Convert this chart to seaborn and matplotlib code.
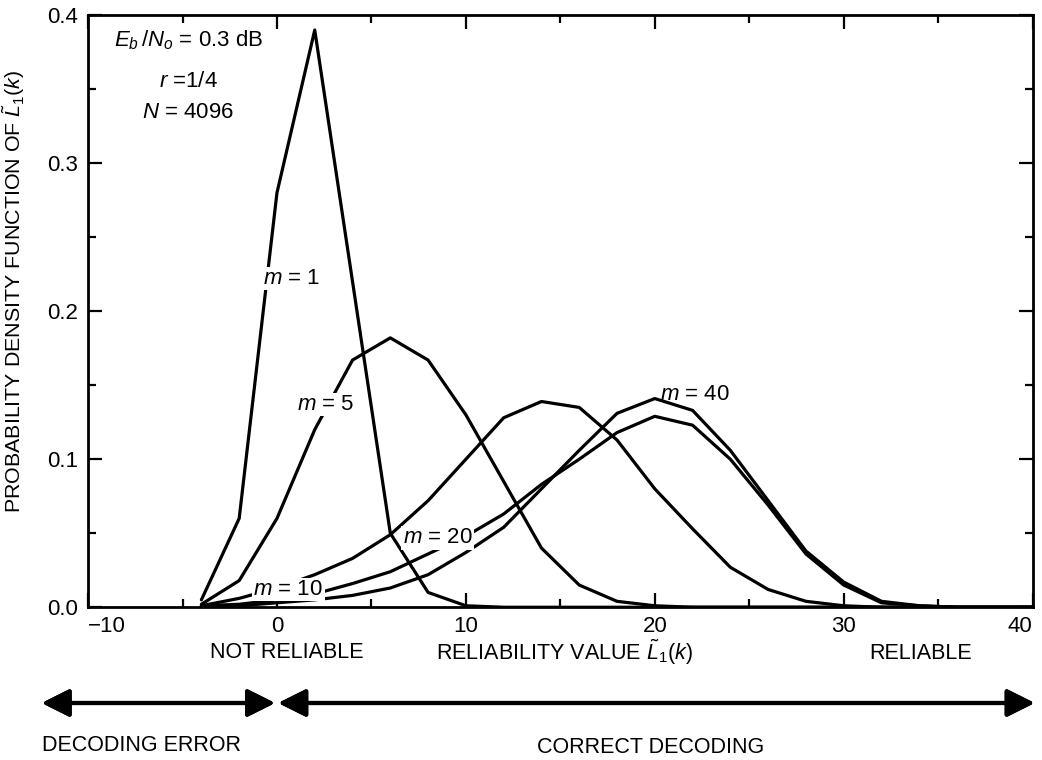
import numpy as np
import pandas as pd
import seaborn as sns
import matplotlib.pyplot as plt
from matplotlib.ticker import MultipleLocator, FormatStrFormatter

# reliability value grid (every 2 units)
x_vals = list(range(-4, 42, 2))
x_ticks = [-10, 0, 10, 20, 30, 40]

pdf_m1 = [0.005, 0.06, 0.28, 0.39, 0.22, 0.05, 0.01, 0.001, 0, 0, 0, 0,
          0, 0, 0, 0, 0, 0, 0, 0, 0, 0, 0]
pdf_m5 = [0.002, 0.018, 0.06, 0.12, 0.167, 0.182, 0.167, 0.13, 0.085, 0.04,
          0.015, 0.004, 0.001, 0, 0, 0, 0, 0, 0, 0, 0, 0, 0]
pdf_m10 = [0.001, 0.006, 0.013, 0.022, 0.033, 0.049, 0.072, 0.1, 0.128,
           0.139, 0.135, 0.113, 0.08, 0.053, 0.027, 0.012, 0.004, 0.001,
           0, 0, 0, 0, 0]
pdf_m20 = [0.001, 0.002, 0.005, 0.009, 0.016, 0.024, 0.036, 0.048, 0.063,
           0.083, 0.1, 0.118, 0.129, 0.123, 0.1, 0.069, 0.036, 0.015,
           0.003, 0.001, 0, 0, 0]
pdf_m40 = [0.0005, 0.001, 0.003, 0.005, 0.008, 0.013, 0.022, 0.037, 0.054,
           0.08, 0.106, 0.131, 0.141, 0.133, 0.106, 0.072, 0.038, 0.017,
           0.004, 0.001, 0, 0, 0]

series = {"1": pdf_m1, "5": pdf_m5, "10": pdf_m10, "20": pdf_m20, "40": pdf_m40}
df = pd.concat(
    [pd.DataFrame({"x": x_vals, "pdf": v, "m": k}) for k, v in series.items()],
    ignore_index=True,
)

sns.set_style("ticks")
plt.rcParams["font.family"] = ["Liberation Sans", "DejaVu Sans"]
plt.rcParams["mathtext.fontset"] = "custom"
plt.rcParams["mathtext.rm"] = "Liberation Sans"
plt.rcParams["mathtext.it"] = "Liberation Sans:italic"
for key in ["text.color", "axes.labelcolor", "xtick.color", "ytick.color",
            "axes.edgecolor"]:
    plt.rcParams[key] = "black"

fig = plt.figure(figsize=(10.42, 7.6), dpi=100)
ax = fig.add_axes([0.0845, 0.201, 0.9065, 0.779])

sns.lineplot(data=df, x="x", y="pdf", hue="m",
             palette=["black"] * 5, linewidth=2.3, legend=False, ax=ax)

ax.set_xlim(-10, 40)
ax.set_ylim(0, 0.4)
ax.set_xticks(x_ticks)
ax.xaxis.set_minor_locator(MultipleLocator(5))
ax.yaxis.set_major_locator(MultipleLocator(0.1))
ax.yaxis.set_minor_locator(MultipleLocator(0.05))
ax.yaxis.set_major_formatter(FormatStrFormatter("%.1f"))
ax.tick_params(which="both", direction="in", top=True, right=True,
               labelsize=16, width=1.6)
ax.tick_params(axis="x", pad=6)
ax.tick_params(axis="y", pad=7)
ax.tick_params(which="major", length=10)
ax.tick_params(which="minor", length=6)
for s in ax.spines.values():
    s.set_linewidth(2.0)
# end labels sit inside the figure, as in the original
xt = ax.xaxis.get_major_ticks()
xt[0].label1.set_horizontalalignment("left")
xt[-1].label1.set_horizontalalignment("right")
ax.set_xlabel("")
ax.set_ylabel(r"PROBABILITY DENSITY FUNCTION OF $\tilde{L}_1(k)$", fontsize=15.4)
ax.yaxis.set_label_coords(-0.065, 0.534)

# parameter box
ax.text(-4.7, 0.383, r"$E_b\,/N_o$ = 0.3 dB", fontsize=16, ha="center", va="center")
ax.text(-4.7, 0.355, r"$r$ =1/4", fontsize=16, ha="center", va="center")
ax.text(-4.7, 0.334, r"$N$ = 4096", fontsize=16, ha="center", va="center")

# curve labels
lbl = dict(fontsize=16, ha="center", va="center",
           bbox=dict(fc="white", ec="none", pad=1))
ax.text(0.8, 0.222, r"$m$ = 1", **lbl)
ax.text(2.6, 0.137, r"$m$ = 5", **lbl)
ax.text(0.6, 0.012, r"$m$ = 10", **lbl)
ax.text(8.5, 0.047, r"$m$ = 20", **lbl)
ax.text(22.1, 0.144, r"$m$ = 40", fontsize=16, ha="center", va="center")

# reliability scale below the axes
fig.text(0.275, 0.141, "NOT RELIABLE", fontsize=15.5, ha="center", va="center")
fig.text(0.542, 0.141, r"RELIABILITY VALUE $\tilde{L}_1(k)$", fontsize=15.5,
         ha="center", va="center")
fig.text(0.883, 0.140, "RELIABLE", fontsize=15.5, ha="center", va="center")
fig.text(0.040, 0.019, "DECODING ERROR", fontsize=15.5, ha="left", va="center")
fig.text(0.624, 0.016, "CORRECT DECODING", fontsize=15.5, ha="center", va="center")

arrow = dict(arrowstyle="<|-|>", lw=3, color="black", mutation_scale=42,
             shrinkA=0, shrinkB=0)
fig.add_artist(plt.annotate("", xy=(0.264, 0.075), xytext=(0.040, 0.075),
                            xycoords="figure fraction", textcoords="figure fraction",
                            arrowprops=arrow))
fig.add_artist(plt.annotate("", xy=(0.993, 0.075), xytext=(0.267, 0.075),
                            xycoords="figure fraction", textcoords="figure fraction",
                            arrowprops=arrow))

plt.savefig("out.png", dpi=100)
plt.close()
